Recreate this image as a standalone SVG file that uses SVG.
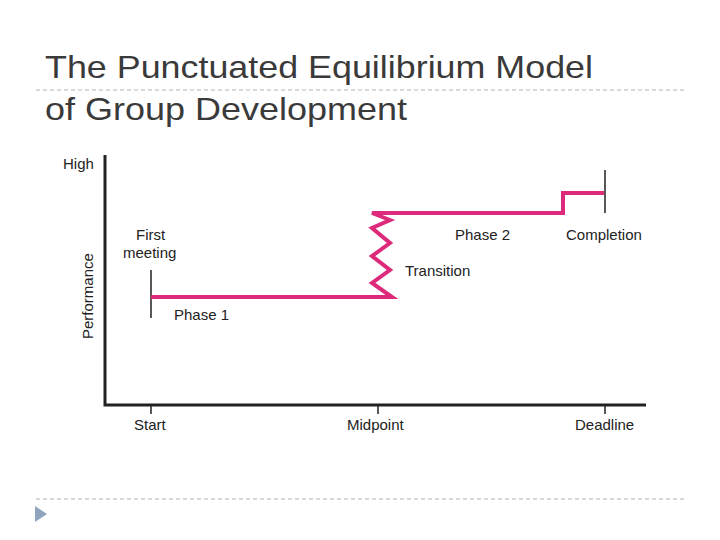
<svg xmlns="http://www.w3.org/2000/svg" width="720" height="540" viewBox="0 0 720 540">
<style>
.t{font-family:"Liberation Sans",Arial,sans-serif;fill:#222}
.s{font-size:15px}
.ax{stroke:#222;fill:none}
.pk{stroke:#dd2a7b;stroke-width:4;fill:none;stroke-linejoin:miter}
.dash{stroke:#aab4c0;stroke-dasharray:4 3;stroke-width:1}
</style>
<rect width="720" height="540" fill="#fff"/>
<g id="title"><text class="t" x="45" y="78" font-size="32" fill="#3a3a3a" style="fill:#3a3a3a" textLength="548" lengthAdjust="spacingAndGlyphs">The Punctuated Equilibrium Model</text>
<text class="t" x="45" y="120" font-size="32" style="fill:#3a3a3a" textLength="362" lengthAdjust="spacingAndGlyphs">of Group Development</text></g>
<line class="dash" x1="36" y1="90" x2="686" y2="90"/>
<line class="dash" x1="36" y1="499" x2="686" y2="499"/>
<polygon points="35,506 35,522 47,514" fill="#8fa5bd"/>
<g id="axes">
<path class="ax" stroke-width="3" d="M105,155V405H646"/>
<path class="ax" stroke-width="1.5" d="M151,405V414M378,405V414M605,405V414"/>
<text class="t s" x="63" y="169">High</text>
<text class="t s" transform="translate(93,339) rotate(-90)">Performance</text>
<text class="t s" x="134" y="430">Start</text>
<text class="t s" x="347" y="430">Midpoint</text>
<text class="t s" x="575" y="430">Deadline</text>
</g>
<g id="connectors">
<path class="ax" stroke-width="1.5" d="M151,270V318M605,170V213"/>
<path class="pk" d="M151,297H392L372,283L390,270L372,256L390,243L372,228L390,220L372,213H563V193H604"/>
</g>
<g id="labels">
<text class="t s" x="136" y="240">First</text>
<text class="t s" x="123" y="258">meeting</text>
<text class="t s" x="174" y="320">Phase 1</text>
<text class="t s" x="405" y="276">Transition</text>
<text class="t s" x="455" y="240">Phase 2</text>
<text class="t s" x="566" y="240">Completion</text>
</g>
</svg>
